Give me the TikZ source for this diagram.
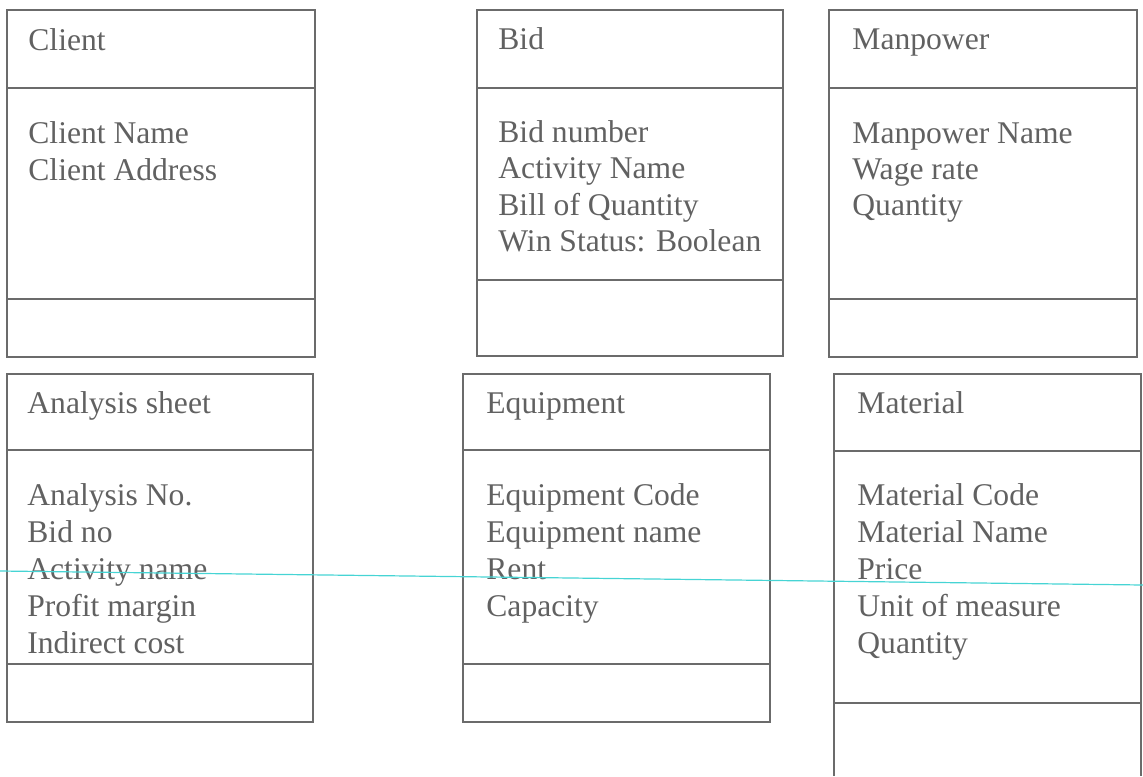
\documentclass[tikz,border=0pt]{standalone}
\usepackage{fontspec}
\setmainfont{Liberation Serif}
\definecolor{scancyan}{RGB}{70,212,212}
\begin{document}
\begin{tikzpicture}[x=0.5pt,y=-0.5pt,
  frame/.style={draw=black!58, line width=0.6pt},
  title/.style={anchor=base west, inner sep=0pt, text=black!62,
    font=\fontsize{15.8}{18}\selectfont},
  attr/.style={title},
  scanline/.style={draw=scancyan, line width=0.6pt}]
\useasboundingbox (0,0) rectangle (1143,776);

% class box: #1 name, #2 left, #3 top, #4 right, #5 first rule, #6 second rule, #7 bottom
\newcommand{\classframe}[7]{%
  \coordinate (#1-nw) at (#2,#3);
  \coordinate (#1-se) at (#4,#7);
  \draw[frame] (#1-nw) rectangle (#1-se);
  \draw[frame] (#2,#5) -- (#4,#5);
  \draw[frame] (#2,#6) -- (#4,#6);}

% ---- upper row ----
\classframe{client}{7}{10}{315}{88}{299}{357}
\node[title] (client-t) at (28,50) {Client};
\foreach \a [count=\i] in {Client Name, Client Address}
  \node[attr] (client-a\i) at (28,{143+37*(\i-1)}) {\a};

\classframe{bid}{477}{10}{783}{88}{280}{356}
\node[title] (bid-t) at (498,49) {Bid};
\foreach \a [count=\i] in {Bid number, Activity Name, Bill of Quantity, Win Status: Boolean}
  \node[attr] (bid-a\i) at (498,{142+36.5*(\i-1)}) {\a};

\classframe{man}{829}{10}{1137}{88}{299}{357}
\node[title] (man-t) at (852,49) {Manpower};
\foreach \a [count=\i] in {Manpower Name, Wage rate, Quantity}
  \node[attr] (man-a\i) at (852,{143+36*(\i-1)}) {\a};

% ---- lower row ----
\classframe{ana}{7}{374}{313}{450}{664}{722}
\node[title] (ana-t) at (27,413) {Analysis sheet};
\foreach \a [count=\i] in {Analysis No., Bid no, Activity name, Profit margin, Indirect cost}
  \node[attr] (ana-a\i) at (27,{505+37.2*(\i-1)}) {\a};

\classframe{equ}{463}{374}{770}{450}{664}{722}
\node[title] (equ-t) at (486,413) {Equipment};
\foreach \a [count=\i] in {Equipment Code, Equipment name, Rent, Capacity}
  \node[attr] (equ-a\i) at (486,{505+37.2*(\i-1)}) {\a};

% material box runs past the lower edge of the sheet
\coordinate (mat-sw) at (834,776);
\coordinate (mat-nw) at (834,374);
\coordinate (mat-ne) at (1141,374);
\coordinate (mat-se) at (1141,776);
\draw[frame] (mat-sw) -- (mat-nw) -- (mat-ne) -- (mat-se);
\draw[frame] (834,451) -- (1141,451);
\draw[frame] (834,703) -- (1141,703);
\node[title] (mat-t) at (857,413) {Material};
\foreach \a [count=\i] in {Material Code, Material Name, Price, Unit of measure, Quantity}
  \node[attr] (mat-a\i) at (857,{505+37.2*(\i-1)}) {\a};

% stray scanner line across the sheet
\coordinate (scan-l) at (0,571);
\coordinate (scan-r) at (1143,585);
\draw[scanline] (scan-l) -- (scan-r);
\end{tikzpicture}
\end{document}
